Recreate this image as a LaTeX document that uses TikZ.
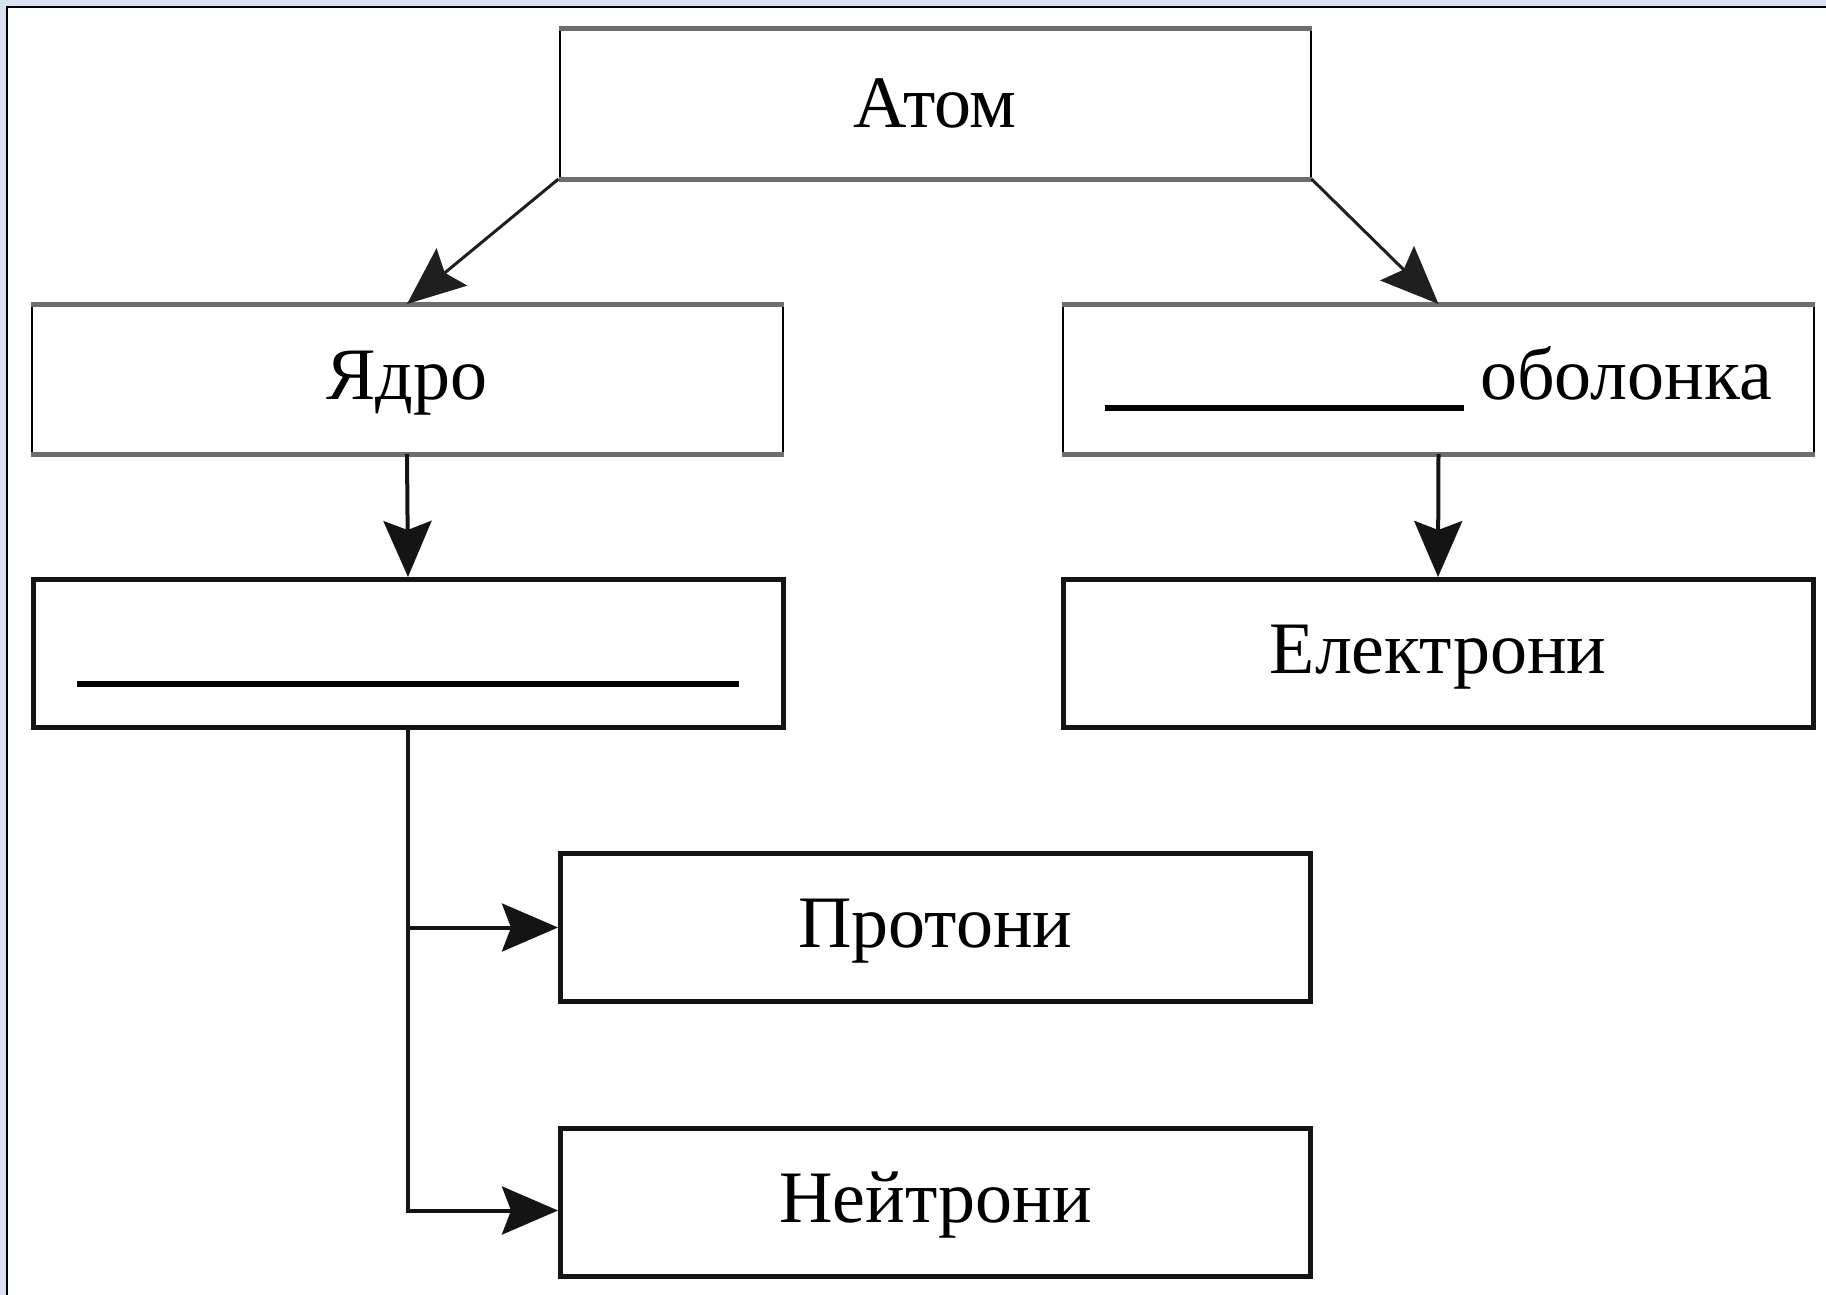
\documentclass[tikz,border=0pt]{standalone}
\usepackage{fontspec}
\setmainfont{Liberation Serif}
\usetikzlibrary{arrows.meta,calc}
\definecolor{framebg}{HTML}{DAE1F2}
\definecolor{edgegray}{HTML}{6E6E6E}
\begin{document}
\begin{tikzpicture}[x=1pt,y=-1pt,
  txt/.style={font=\fontsize{74}{80}\selectfont, text height=50pt, text depth=10pt, inner sep=0pt},
  topbox/.style={txt, draw=black, line width=2pt, minimum width=751pt, minimum height=148pt},
  lowbox/.style={txt, draw=black!92, line width=5pt, minimum width=750pt, minimum height=148pt},
  arr/.style={-{Stealth[length=56pt,width=48pt,inset=9pt]}, line width=4pt, black!92},
  diag/.style={-{Stealth[length=58pt,width=48pt,inset=9pt]}, line width=3pt, black!88}
]
\useasboundingbox (0,0) rectangle (1826,1295);
% frame
\fill[framebg] (0,0) rectangle (1826,1295);
\fill[white] (7,7) rectangle (1826,1295);
\draw[black, line width=2.5pt] (7,1295) -- (7,7) -- (1826,7);

% nodes
\node[topbox] (atom) at (935,104) {\raisebox{-4pt}{Атом}};
\node[topbox] (yadro) at (407,379) {Ядро};
\node[topbox] (obol) at (1438.5,379) {\rule[-12pt]{359pt}{6pt}\hspace{16pt}оболонка};
\node[lowbox] (blank) at (408,653.5) {\rule[-13pt]{662pt}{6pt}};
\node[lowbox] (elec) at (1438,653.5) {Електрони};
\node[lowbox] (prot) at (935.5,927.5) {Протони};
\node[lowbox] (neut) at (935.5,1202.5) {Нейтрони};

% gray top/bottom edges of the upper boxes
\foreach \n in {atom,yadro,obol}{
  \draw[edgegray, line width=5pt] (\n.north west) -- (\n.north east);
  \draw[edgegray, line width=5pt] (\n.south west) -- (\n.south east);
}

% connectors
\draw[diag] (atom.south west) -- (yadro.north);
\draw[diag] (atom.south east) -- (obol.north);
\draw[arr] (yadro.south) -- (blank.north);
\draw[arr] (obol.south) -- (elec.north);
\draw[arr] (blank.south) |- ([yshift=-8pt]neut.west);
\draw[arr] (blank.south |- prot.west) -- (prot.west);
\end{tikzpicture}
\end{document}
